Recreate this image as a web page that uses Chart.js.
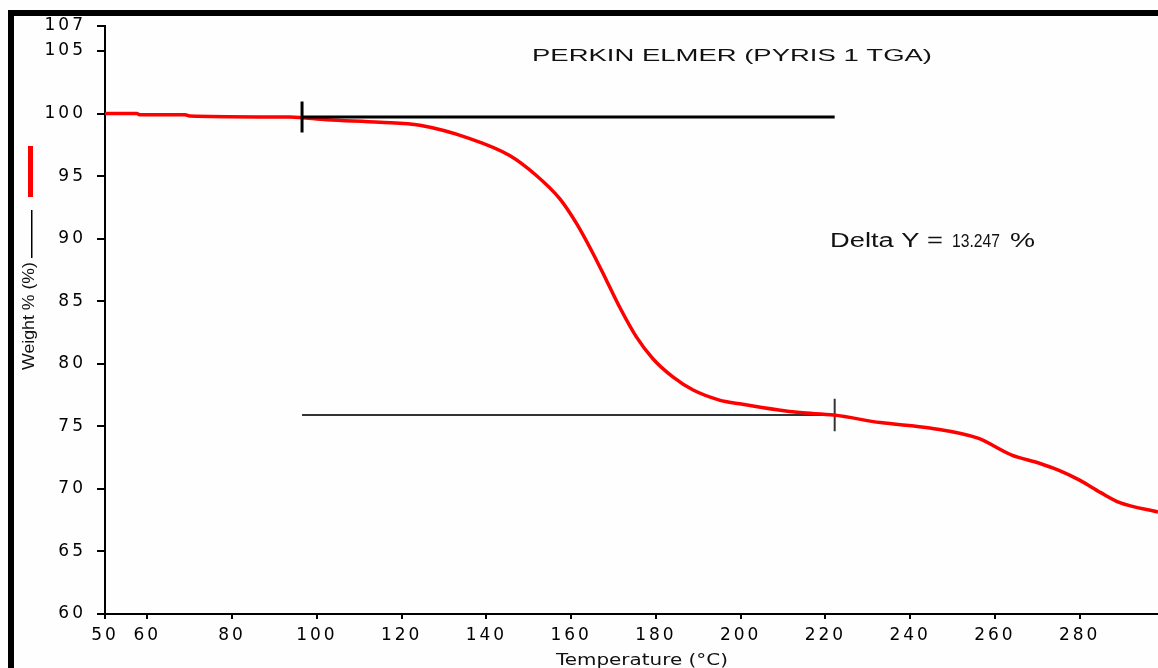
<!DOCTYPE html>
<html>
<head>
<meta charset="utf-8">
<script src="https://cdn.jsdelivr.net/npm/chart.js@4/dist/chart.umd.min.js"></script>
<style>
  html, body { margin: 0; padding: 0; background: #fff; }
</style>
</head>
<body>
<canvas id="tga" width="1158" height="668"></canvas>
<script>
// TGA curve (temperature in °C, weight in %)
const temps = [50, 57.5, 58.3, 68.9, 70, 93.6, 102.4, 114.9, 124.3, 136.1, 145.5, 151.8,
  157.3, 161.3, 165.2, 168.3, 171.5, 175.4, 179.3, 184, 188.8, 195, 199.8, 209,
  214, 222, 233, 245, 256, 264, 270.5, 275, 280, 285, 289.5, 298.5];
const weights = [100.0, 100.0, 99.9, 99.9, 99.8, 99.72, 99.5, 99.3, 99.06, 98.0, 96.65, 95.05,
  93.2, 91.2, 88.8, 86.7, 84.5, 82.15, 80.4, 78.95, 77.9, 77.1, 76.8, 76.3,
  76.1, 75.9, 75.3, 74.85, 74.05, 72.7, 72.05, 71.5, 70.7, 69.7, 68.9, 68.15];

// delta Y construction: the two levels and the temperature span
const deltaLevels = [99.72, 75.9];
const deltaSpan = [96.5, 222.2];
const markHalf = [1.24, 1.3];

const xTicks = [50, 60, 80, 100, 120, 140, 160, 180, 200, 220, 240, 260, 280];
const yTicks = [60, 65, 70, 75, 80, 85, 90, 95, 100, 105, 107];

const levelLine = (i) => deltaSpan.map((t) => ({ x: t, y: deltaLevels[i] }));
const markLine = (i, t) => [{ x: t, y: deltaLevels[i] + markHalf[i] }, { x: t, y: deltaLevels[i] - markHalf[i] }];

const lineStyle = { showLine: true, pointRadius: 0, fill: false };
const tickFont = { family: "'DejaVu Sans'", size: 17 };

const decor = {
  id: "decor",
  beforeDraw(chart) {
    const ctx = chart.ctx;
    ctx.save();
    ctx.fillStyle = "#fefefe";
    ctx.fillRect(0, 0, chart.width, chart.height);
    ctx.restore();
    ctx.letterSpacing = "3px";
  },
  afterDraw(chart) {
    const ctx = chart.ctx;
    ctx.letterSpacing = "0px";
    ctx.save();

    // frame
    ctx.fillStyle = "#000";
    ctx.fillRect(8, 10, 1150, 6);
    ctx.fillRect(8, 10, 6, 658);

    ctx.fillStyle = "#111";
    ctx.textBaseline = "alphabetic";
    ctx.textAlign = "left";

    const stretched = (text, x, y, font, width) => {
      ctx.font = font;
      const w = ctx.measureText(text).width;
      ctx.save();
      ctx.translate(x, y);
      ctx.scale(width / w, 1);
      ctx.fillText(text, 0, 0);
      ctx.restore();
    };

    stretched("PERKIN ELMER (PYRIS 1 TGA)", 532, 61, "17px 'Liberation Sans'", 400);
    stretched("Delta Y =", 830, 247, "20px 'Liberation Sans'", 113);
    stretched("13.247", 952, 247, "18px 'Liberation Sans'", 48);
    stretched("%", 1010, 247, "20px 'Liberation Sans'", 25);
    stretched("Temperature (°C)", 556, 665, "15px 'DejaVu Sans'", 172);

    // y title with its legend sample
    ctx.save();
    ctx.translate(34, 370);
    ctx.rotate(-Math.PI / 2);
    stretched("Weight % (%)", 0, 0, "16px 'Liberation Sans'", 108);
    ctx.restore();
    ctx.fillStyle = "#000";
    ctx.fillRect(31, 210, 1.5, 48);
    ctx.fillStyle = "#ff0000";
    ctx.fillRect(28, 146, 5, 51);

    ctx.restore();
  },
};

new Chart(document.getElementById("tga"), {
  type: "scatter",
  data: {
    datasets: [
      { ...lineStyle, label: "start level", data: levelLine(0), borderColor: "#000", borderWidth: 3 },
      { ...lineStyle, label: "start mark", data: markLine(0, deltaSpan[0]), borderColor: "#000", borderWidth: 3 },
      {
        ...lineStyle,
        label: "Weight %",
        data: temps.map((t, i) => ({ x: t, y: weights[i] })),
        borderColor: "#ff0000",
        borderWidth: 3.5,
        cubicInterpolationMode: "monotone",
      },
      { ...lineStyle, label: "end level", data: levelLine(1), borderColor: "#333", borderWidth: 2 },
      { ...lineStyle, label: "end mark", data: markLine(1, deltaSpan[1]), borderColor: "#333", borderWidth: 2 },
    ],
  },
  options: {
    responsive: false,
    animation: false,
    layout: { padding: { top: 26, right: 0, bottom: 0, left: 0 } },
    plugins: { legend: { display: false }, tooltip: { enabled: false } },
    scales: {
      x: {
        type: "linear",
        min: 50,
        max: 298.5,
        afterBuildTicks: (scale) => { scale.ticks = xTicks.map((v) => ({ value: v })); },
        afterFit: (scale) => { scale.height = 54; },
        grid: { drawOnChartArea: false, tickLength: 5, color: "#000", lineWidth: 2 },
        border: { color: "#000", width: 2 },
        ticks: { color: "#000", font: tickFont, padding: 6, maxRotation: 0, autoSkip: false },
      },
      y: {
        type: "linear",
        min: 60,
        max: 107,
        afterBuildTicks: (scale) => { scale.ticks = yTicks.map((v) => ({ value: v })); },
        afterFit: (scale) => { scale.width = 105; },
        grid: { drawOnChartArea: false, tickLength: 8, color: "#000", lineWidth: 2 },
        border: { color: "#000", width: 2 },
        ticks: { color: "#000", font: tickFont, padding: 11, autoSkip: false },
      },
    },
  },
  plugins: [decor],
});
</script>
</body>
</html>
